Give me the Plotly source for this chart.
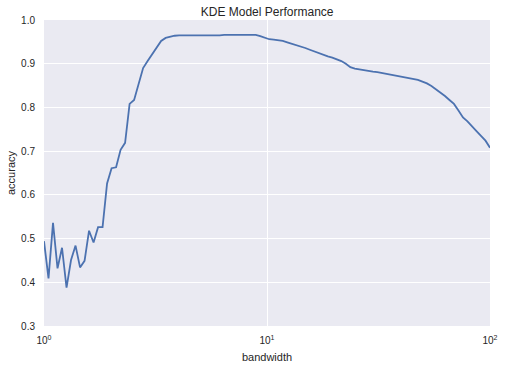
import numpy as np
import plotly.graph_objects as go

bandwidth = np.logspace(0, 2, 100)
accuracy = [
    0.494, 0.409, 0.536, 0.432, 0.479, 0.388, 0.451, 0.484, 0.434, 0.449,
    0.518, 0.491, 0.526, 0.526, 0.626, 0.661, 0.663, 0.703, 0.719, 0.808,
    0.817, 0.852, 0.890, 0.906, 0.922, 0.938, 0.952, 0.959, 0.962, 0.964,
    0.965, 0.965, 0.965, 0.965, 0.965, 0.965, 0.964, 0.964, 0.965, 0.965,
    0.966, 0.966, 0.967, 0.967, 0.967, 0.967, 0.967, 0.966, 0.963, 0.959,
    0.956, 0.955, 0.954, 0.952, 0.949, 0.946, 0.942, 0.939, 0.936, 0.932,
    0.928, 0.924, 0.920, 0.917, 0.914, 0.910, 0.906, 0.900, 0.892, 0.889,
    0.887, 0.885, 0.884, 0.882, 0.881, 0.879, 0.877, 0.875, 0.873, 0.872,
    0.869, 0.867, 0.865, 0.863, 0.859, 0.855, 0.849, 0.842, 0.834, 0.826,
    0.817, 0.808, 0.793, 0.777, 0.768, 0.758, 0.746, 0.735, 0.724, 0.708,
]
x_tickvals = [1, 10, 100]
x_ticktext = ["10<sup>0</sup>", "10<sup>1</sup>", "10<sup>2</sup>"]
y_tickvals = [0.3, 0.4, 0.5, 0.6, 0.7, 0.8, 0.9, 1.0]

font = "Liberation Sans, Arial, sans-serif"
fig = go.Figure()
fig.add_trace(go.Scatter(x=bandwidth, y=accuracy, mode="lines",
                         line=dict(color="#4C72B0", width=1.8),
                         showlegend=False, hoverinfo="skip"))
fig.update_layout(
    width=505, height=369,
    margin=dict(l=44, r=15, t=20, b=43),
    paper_bgcolor="white",
    plot_bgcolor="#EAEAF2",
    font=dict(family=font, size=11, color="#262626"),
    title=dict(text="KDE Model Performance", x=0.529, xanchor="center",
               y=1 - 12 / 369, yanchor="middle", yref="container",
               font=dict(size=12, color="#262626")),
    xaxis=dict(type="log", range=[0, 2], tickvals=x_tickvals, ticktext=x_ticktext,
               showgrid=True, gridcolor="white", gridwidth=1,
               zeroline=False, showline=False, ticks="", automargin=False,
               ticklabelstandoff=7, ticklabeloverflow="allow",
               title=dict(text="bandwidth", standoff=8, font=dict(size=11)),
               tickfont=dict(size=10)),
    yaxis=dict(range=[0.3, 1.0], tickvals=y_tickvals,
               ticktext=[f"{v:.1f}" for v in y_tickvals],
               showgrid=True, gridcolor="white", gridwidth=1,
               zeroline=False, showline=False, ticks="", automargin=False,
               ticklabelstandoff=8,
               title=dict(text="accuracy", standoff=3, font=dict(size=11)),
               tickfont=dict(size=10)),
)
fig.write_html("out.html", config={"displayModeBar": False},
               post_script="document.body.style.margin='0';document.body.style.padding='0';")
